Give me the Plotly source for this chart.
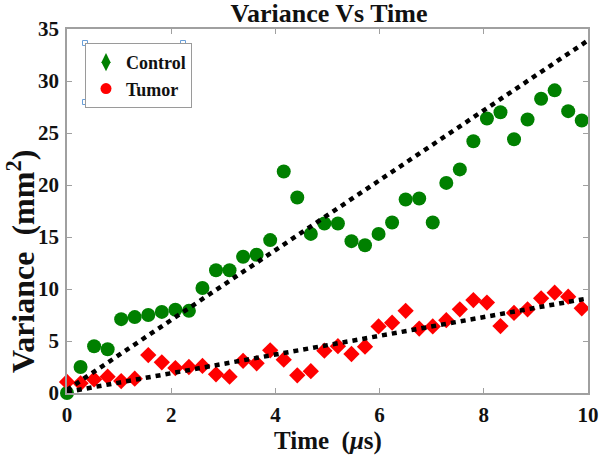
import plotly.graph_objects as go

# ---- data ----
time_us = [0.00, 0.26, 0.52, 0.78, 1.04, 1.30, 1.56, 1.82, 2.08, 2.34,
           2.60, 2.86, 3.12, 3.38, 3.64, 3.90, 4.16, 4.42, 4.68, 4.94,
           5.20, 5.46, 5.72, 5.98, 6.24, 6.50, 6.76, 7.02, 7.28, 7.54,
           7.80, 8.06, 8.32, 8.58, 8.84, 9.10, 9.36, 9.62, 9.88]

control = [0.0, 2.5, 4.5, 4.2, 7.1, 7.3, 7.5, 7.8, 8.0, 7.9,
           10.1, 11.8, 11.8, 13.1, 13.3, 14.7, 21.3, 18.8, 15.3, 16.3,
           16.3, 14.6, 14.2, 15.3, 16.4, 18.6, 18.7, 16.4, 20.2, 21.5,
           24.2, 26.4, 27.0, 24.4, 26.3, 28.3, 29.1, 27.1, 26.2]

tumor = [1.06, 0.93, 1.30, 1.57, 1.15, 1.38, 3.65, 2.95, 2.40, 2.50,
         2.60, 1.80, 1.57, 3.10, 2.85, 4.10, 3.20, 1.70, 2.10, 4.07,
         4.50, 3.75, 4.45, 6.40, 6.76, 7.90, 6.20, 6.40, 7.00, 8.05,
         8.94, 8.70, 6.44, 7.70, 8.05, 9.10, 9.65, 9.26, 8.14]

fit_x = [0, 10]
control_fit = [0.3, 33.9]
tumor_fit = [0.1, 9.1]

x_ticks = [0, 2, 4, 6, 8, 10]
y_ticks = [0, 5, 10, 15, 20, 25, 30, 35]

GREEN = "#008000"
RED = "#ff0000"
FONT = "Liberation Serif"
AXIS = "#a0a0a0"

fig = go.Figure()

fig.add_trace(go.Scatter(x=time_us, y=control, mode="markers", showlegend=False,
                         cliponaxis=False,
                         marker=dict(symbol="circle", size=14, color=GREEN, line=dict(width=0))))
fig.add_trace(go.Scatter(x=time_us, y=tumor, mode="markers", showlegend=False,
                         cliponaxis=False,
                         marker=dict(symbol="diamond", size=12.5, color=RED, line=dict(width=0))))

fig.add_trace(go.Scatter(x=fit_x, y=control_fit, mode="lines", showlegend=False,
                         line=dict(color="black", width=4.5, dash="5px,5px")))
fig.add_trace(go.Scatter(x=fit_x, y=tumor_fit, mode="lines", showlegend=False,
                         line=dict(color="black", width=4.5, dash="5px,5px")))

# legend-only entries (the reference legend swaps the symbols)
fig.add_trace(go.Scatter(x=[None], y=[None], mode="markers", name="Control",
                         marker=dict(symbol="diamond-tall", size=13, color=GREEN)))
fig.add_trace(go.Scatter(x=[None], y=[None], mode="markers", name="Tumor",
                         marker=dict(symbol="circle", size=11, color=RED)))

W, H = 600, 457
L, R, T, B = 67, 12, 29, 64
pw, ph = W - L - R, H - T - B

def px_x(p):
    return (p - L) / pw

def px_y(p):
    return (H - B - p) / ph

axis_common = dict(showgrid=False, zeroline=False, showline=True, linecolor=AXIS,
                   linewidth=1.5, mirror="ticks", ticks="inside", ticklen=5,
                   tickcolor=AXIS, tickwidth=1, automargin=False,
                   tickfont=dict(family=FONT, size=21, color="#111111", weight="bold"))

fig.update_xaxes(range=[0, 10], tickvals=x_ticks, ticktext=[str(v) for v in x_ticks],
                 ticklabelstandoff=2, **axis_common)
fig.update_yaxes(range=[0, 35], tickvals=y_ticks, ticktext=[str(v) for v in y_ticks],
                 ticklabelstandoff=2, **axis_common)

# legend box corner handles
shapes = []
lx0, lx1, ly0, ly1 = 85, 183, 43, 102
for cx, cy in [(lx0, ly0), (lx1, ly0), (lx0, ly1), (lx1, ly1)]:
    shapes.append(dict(type="rect", xref="paper", yref="paper",
                       xsizemode="pixel", ysizemode="pixel",
                       xanchor=px_x(cx), yanchor=px_y(cy),
                       x0=-2.5, x1=2.5, y0=-2.5, y1=2.5,
                       line=dict(color="#6a9fd8", width=1), fillcolor="white"))

fig.update_layout(
    width=W, height=H,
    margin=dict(l=L, r=R, t=T, b=B, autoexpand=False),
    paper_bgcolor="white", plot_bgcolor="white",
    title=dict(text="<b>Variance Vs Time</b>", x=px_x(329), xref="paper", xanchor="center",
               y=1 - 13 / H, yref="container", yanchor="middle",
               font=dict(family=FONT, size=26, color="#111111")),
    legend=dict(x=px_x(lx0), y=px_y(ly0), xanchor="left", yanchor="top",
                bgcolor="white", bordercolor="#9a9a9a", borderwidth=1,
                font=dict(family=FONT, size=18, color="#111111", weight="bold"),
                itemwidth=30, tracegroupgap=0),
    shapes=shapes,
    annotations=[
        dict(text="<b>Time  (<i>μ</i>s)</b>", xref="paper", yref="paper",
             x=px_x(328), y=px_y(441), xanchor="center", yanchor="middle",
             showarrow=False, font=dict(family=FONT, size=25, color="#111111")),
        dict(text="<b>Variance  (mm<sup>2</sup>)</b>", xref="paper", yref="paper",
             x=px_x(21), y=px_y(262), xanchor="center", yanchor="middle", textangle=-90,
             showarrow=False, font=dict(family=FONT, size=32, color="#111111")),
    ],
)

fig.write_html("out.html", config={"displayModeBar": False},
               post_script="document.body.style.margin='0px';")
